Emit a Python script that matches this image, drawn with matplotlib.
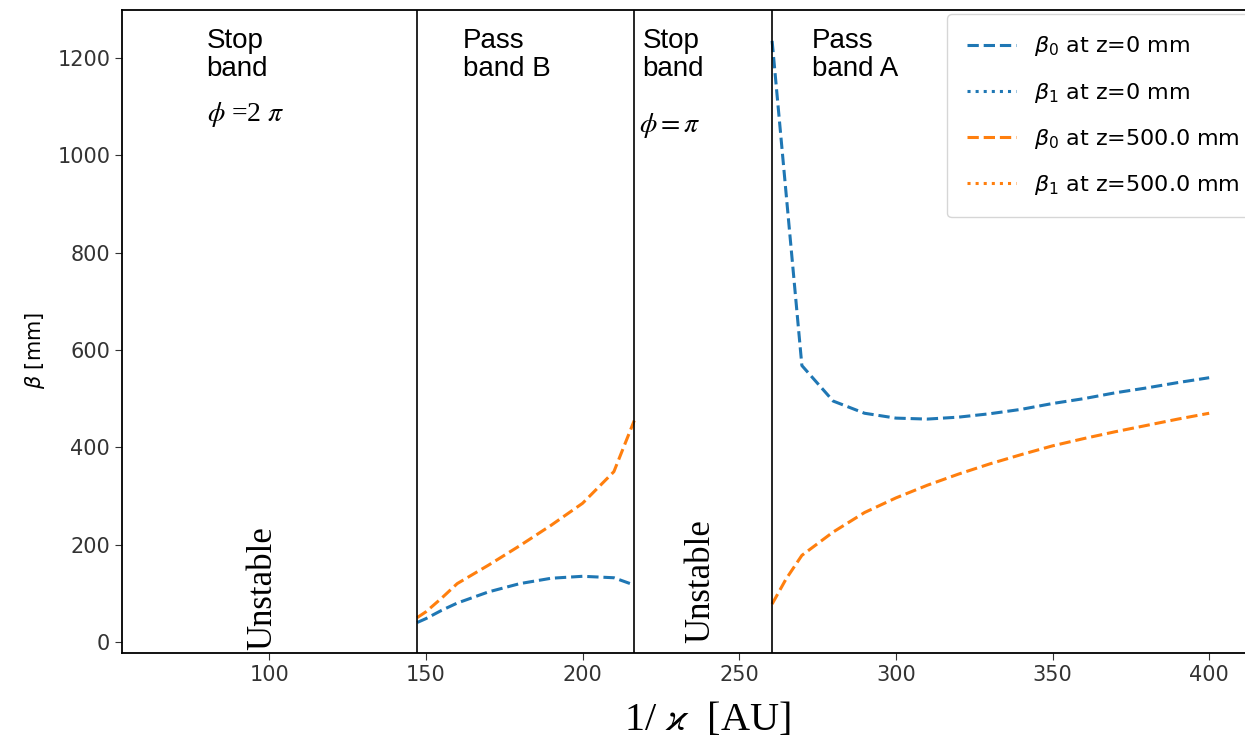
import numpy as np
import matplotlib.pyplot as plt

plt.rcParams['mathtext.fontset'] = 'stix'

# pass band B
kB = [147.2, 150, 155, 160, 170, 180, 190, 200, 210, 216.5]
b0_z0_B = [40, 48, 65, 80, 103, 120, 131, 135, 132, 117]
b0_z500_B = [50, 62, 90, 120, 158, 198, 240, 285, 350, 455]

# pass band A
kA = [260.5, 270, 280, 290, 300, 310, 320, 330, 340, 350, 360, 370, 380, 390, 400]
b0_z0_A = [1235, 568, 495, 470, 460, 458, 462, 469, 478, 490, 500, 512, 522, 533, 543]
kA2 = [260.5, 265, 270, 280, 290, 300, 310, 320, 330, 340, 350, 360, 370, 380, 390, 400]
b0_z500_A = [78, 130, 178, 226, 266, 296, 322, 345, 366, 385, 403, 418, 432, 445, 458, 470]

band_edges = [147.2, 216.5, 260.5]

W, H = 1245, 743
fig = plt.figure(figsize=(W / 100, H / 100), dpi=100)
ax = fig.add_axes([122 / W, 1 - 653 / H, 1142 / W, 643 / H])

blue = '#1f77b4'
orange = '#ff7f0e'
lw = 2.2

ax.plot(kB, b0_z0_B, '--', color=blue, lw=lw, label=r'$\beta_0$ at z=0 mm')
ax.plot(kA, b0_z0_A, '--', color=blue, lw=lw)
ax.plot([], [], ':', color=blue, lw=lw, label=r'$\beta_1$ at z=0 mm')
ax.plot(kB, b0_z500_B, '--', color=orange, lw=lw, label=r'$\beta_0$ at z=500.0 mm')
ax.plot(kA2, b0_z500_A, '--', color=orange, lw=lw)
ax.plot([], [], ':', color=orange, lw=lw, label=r'$\beta_1$ at z=500.0 mm')

for e in band_edges:
    ax.axvline(e, color='black', lw=1.2)

ax.set_xlim(53, 417.5)
ax.set_ylim(-22.6, 1298.5)
ax.set_xticks([100, 150, 200, 250, 300, 350, 400])
ax.set_yticks([0, 200, 400, 600, 800, 1000, 1200])
ax.tick_params(labelsize=15, length=5, colors='#333333', labelcolor='#333333')
for s in ax.spines.values():
    s.set_linewidth(1.3)
ax.spines['right'].set_visible(False)
ax.set_ylabel(r'$\beta$ [mm]', fontsize=15, fontfamily='DejaVu Sans')
ax.yaxis.label.set_math_fontfamily('dejavusans')
ax.yaxis.set_label_coords(-0.066, 0.47)

leg = ax.legend(loc='upper right', bbox_to_anchor=(1.0, 1.0), fontsize=16,
                handlelength=2.2, borderpad=0.9, labelspacing=1.0,
                framealpha=0.8, borderaxespad=0.2)
for t in leg.get_texts():
    t.set_math_fontfamily('dejavusans')

sans = ['Liberation Sans', 'DejaVu Sans']
serif = ['Liberation Serif', 'DejaVu Serif']
ax.text(79.9, 1262, 'Stop\nband', fontsize=20, family=sans, va='top', ha='left', linespacing=1.1)
ax.text(161.9, 1262, 'Pass\nband B', fontsize=20, family=sans, va='top', ha='left', linespacing=1.1)
ax.text(219.1, 1262, 'Stop\nband', fontsize=20, family=sans, va='top', ha='left', linespacing=1.1)
ax.text(273.3, 1262, 'Pass\nband A', fontsize=20, family=sans, va='top', ha='left', linespacing=1.1)

ax.text(80.2, 1083, r'$\phi$ =2 $\pi$', fontsize=20, family=serif, va='center', ha='left')
ax.text(218.1, 1062, r'$\phi = \pi$', fontsize=20, family=serif, va='center', ha='left')

ax.text(97.8, -16, 'Unstable', fontsize=25, family=serif, rotation=90, va='bottom', ha='center')
ax.text(237.6, -2, 'Unstable', fontsize=25, family=serif, rotation=90, va='bottom', ha='center')

fig.text(707 / W, 1 - 720 / H, r'1/ $\varkappa$  [AU]', fontsize=29, family=serif,
         ha='center', va='center')

fig.savefig('out.png', dpi=100)
